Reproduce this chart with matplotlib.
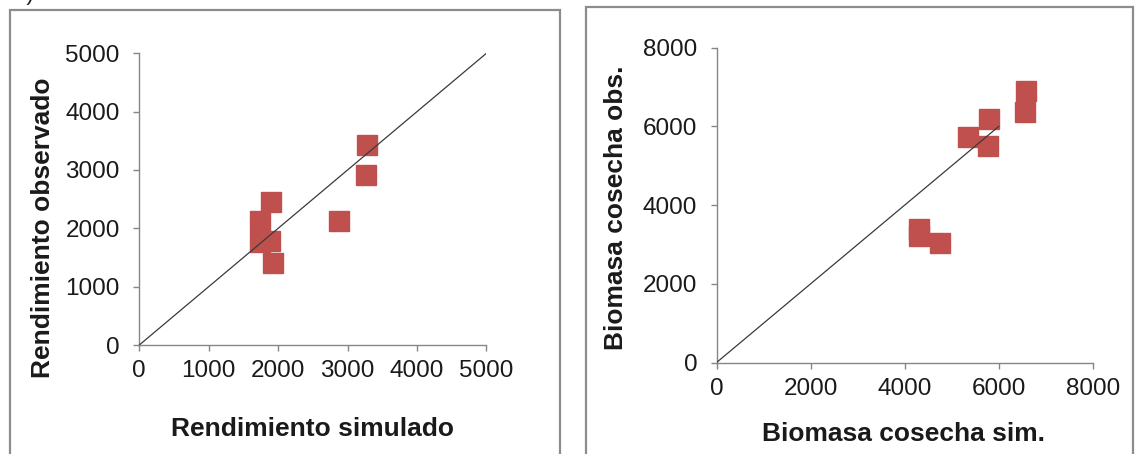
import matplotlib
matplotlib.use("Agg")
import matplotlib.pyplot as plt
from matplotlib.patches import Rectangle

plt.rcParams['font.family'] = ['Liberation Sans', 'DejaVu Sans']

# ---- data ----
rend_sim = [3280, 3260, 2870, 1890, 1740, 1740, 1880, 1930]
rend_obs = [3430, 2910, 2120, 2450, 2130, 1760, 1790, 1410]
rend_ticks = [0, 1000, 2000, 3000, 4000, 5000]
rend_line = [0, 5000]

bio_sim = [6580, 6560, 5790, 5350, 5780, 4310, 4310, 4750]
bio_obs = [6900, 6370, 6190, 5740, 5510, 3400, 3210, 3040]
bio_ticks = [0, 2000, 4000, 6000, 8000]
bio_line = [0, 6000]

W, H = 1136, 454
fig = plt.figure(figsize=(W / 100, H / 100), dpi=100)

RED = '#C0504D'
GRAY = '#868686'
TXT = '#1a1a1a'


def px_axes(x0, x1, ytop, ybot):
    return fig.add_axes([x0 / W, 1 - ybot / H, (x1 - x0) / W, (ybot - ytop) / H])


def style(ax, ticks):
    ax.set_xlim(ticks[0], ticks[-1])
    ax.set_ylim(ticks[0], ticks[-1])
    ax.set_xticks(ticks)
    ax.set_yticks(ticks)
    for s in ('top', 'right'):
        ax.spines[s].set_visible(False)
    for s in ('left', 'bottom'):
        ax.spines[s].set_color(GRAY)
        ax.spines[s].set_linewidth(1.0)
    ax.tick_params(direction='out', length=4, width=1.0, color=GRAY,
                   labelsize=17.5, labelcolor=TXT)
    ax.tick_params(axis='y', pad=10)
    ax.tick_params(axis='x', pad=7)
    ax.set_facecolor('none')


# panel frames
fig.patches.append(Rectangle((9.5 / W, -0.1), (560 - 9.5) / W, 1.1 - 10 / H,
                             transform=fig.transFigure, fill=False,
                             edgecolor='#8c8c8c', linewidth=1.6))
fig.patches.append(Rectangle((586 / W, -0.1), (1133 - 586) / W, 1.1 - 7.5 / H,
                             transform=fig.transFigure, fill=False,
                             edgecolor='#8c8c8c', linewidth=1.6))

# cut-off panel label at top-left (only the bottom of ")" is visible)
fig.text(14 / W, 1.0, 'a)', fontsize=16, ha='left', va='baseline', color=TXT)

# ---- left panel ----
ax1 = px_axes(139.3, 486.4, 53.3, 345)
style(ax1, rend_ticks)
ax1.plot(rend_line, rend_line, color='#3a3a3a', linewidth=0.9, zorder=3)
ax1.plot(rend_sim, rend_obs, linestyle='none', marker='s', markersize=14.5,
         markerfacecolor=RED, markeredgecolor=RED, markeredgewidth=1,
         zorder=2, clip_on=False)
fig.text(312.5 / W, 1 - 429 / H, 'Rendimiento simulado', fontsize=19,
         fontweight='bold', ha='center', va='center', color=TXT)
fig.text(43 / W, 1 - 227.5 / H, 'Rendimiento observado', fontsize=19,
         fontweight='bold', ha='center', va='center', rotation=90, color=TXT)

# ---- right panel ----
ax2 = px_axes(716.6, 1092.8, 47.7, 362.5)
style(ax2, bio_ticks)
ax2.plot(bio_line, bio_line, color='#3a3a3a', linewidth=0.9, zorder=3)
ax2.plot(bio_sim, bio_obs, linestyle='none', marker='s', markersize=14.5,
         markerfacecolor=RED, markeredgecolor=RED, markeredgewidth=1,
         zorder=2, clip_on=False)
fig.text(904 / W, 1 - 434 / H, 'Biomasa cosecha sim.', fontsize=19,
         fontweight='bold', ha='center', va='center', color=TXT)
fig.text(616 / W, 1 - 207.5 / H, 'Biomasa cosecha obs.', fontsize=19,
         fontweight='bold', ha='center', va='center', rotation=90, color=TXT)

fig.savefig('out.png', dpi=100)
